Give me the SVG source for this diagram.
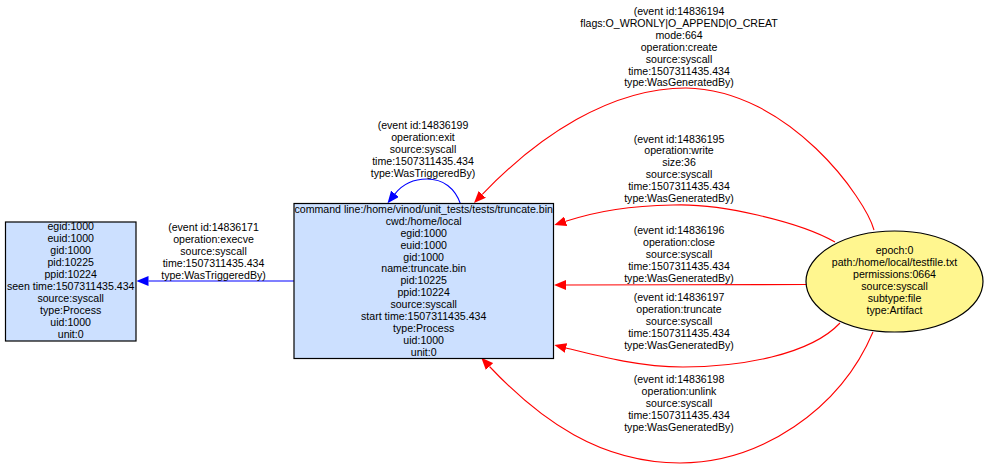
<svg xmlns="http://www.w3.org/2000/svg" width="989" height="469" viewBox="0 0 989 469">
<style>
text { font-family: "Liberation Sans", Arial, sans-serif; font-size: 10.6px; fill: #000; text-anchor: middle; }
.proc { fill: #cce0ff; stroke: #000; stroke-width: 1.2; }
.art { fill: #fff68f; stroke: #000; stroke-width: 1.2; }
.red { fill: none; stroke: #ff0000; stroke-width: 1.1; }
.blue { fill: none; stroke: #0000ff; stroke-width: 1.1; }
.red-m { marker-end: url(#ah-red); }
.blue-m { marker-end: url(#ah-blue); }
</style>
<defs>
<marker id="ah-red" viewBox="0 0 12 10" refX="0" refY="5" markerWidth="12" markerHeight="10" markerUnits="userSpaceOnUse" orient="auto">
<path d="M0,0 L12,5 L0,10 Z" fill="#ff0000"/>
</marker>
<marker id="ah-blue" viewBox="0 0 12 10" refX="0" refY="5" markerWidth="12" markerHeight="10" markerUnits="userSpaceOnUse" orient="auto">
<path d="M0,0 L12,5 L0,10 Z" fill="#0000ff"/>
</marker>
</defs>
<rect width="989" height="469" fill="#ffffff"/>

<g id="connectors">
<g id="e-execve">
<path class="blue blue-m" d="M294,281 L148.5,281"/>
<text x="213.5" y="230.7">(event id:14836171</text>
<text x="213.5" y="242.7">operation:execve</text>
<text x="213.5" y="254.7">source:syscall</text>
<text x="213.5" y="266.7">time:1507311435.434</text>
<text x="213.5" y="278.7">type:WasTriggeredBy)</text>
</g>
<g id="e-exit">
<path class="blue blue-m" d="M460.5,204 C455,188 443,179 427,179 C413,179 402,185 395,193.8"/>
<text x="423" y="129.3">(event id:14836199</text>
<text x="423" y="141.3">operation:exit</text>
<text x="423" y="153.2">source:syscall</text>
<text x="423" y="165.2">time:1507311435.434</text>
<text x="423" y="177.1">type:WasTriggeredBy)</text>
</g>
<g id="e-create">
<path class="red red-m" d="M874,230 C866,200 790,90 686,88 C610,88 537.5,136.8 482.3,194.4"/>
<text x="679" y="15">(event id:14836194</text>
<text x="679" y="26.9">flags:O_WRONLY|O_APPEND|O_CREAT</text>
<text x="679" y="38.8">mode:664</text>
<text x="679" y="50.7">operation:create</text>
<text x="679" y="62.6">source:syscall</text>
<text x="679" y="74.5">time:1507311435.434</text>
<text x="679" y="86.4">type:WasGeneratedBy)</text>
</g>
<g id="e-write">
<path class="red red-m" d="M835,242 C800,222 720,203 673,205 C630,206 599,210.5 565.7,221.3"/>
<text x="679" y="142.5">(event id:14836195</text>
<text x="679" y="154.4">operation:write</text>
<text x="679" y="166.2">size:36</text>
<text x="679" y="178.1">source:syscall</text>
<text x="679" y="189.9">time:1507311435.434</text>
<text x="679" y="201.8">type:WasGeneratedBy)</text>
</g>
<g id="e-close">
<path class="red red-m" d="M807,284.5 C740,284.5 640,285 566,285"/>
<text x="679" y="234.4">(event id:14836196</text>
<text x="679" y="246.3">operation:close</text>
<text x="679" y="258.2">source:syscall</text>
<text x="679" y="270.1">time:1507311435.434</text>
<text x="679" y="282">type:WasGeneratedBy)</text>
</g>
<g id="e-truncate">
<path class="red red-m" d="M840,323 C810,355 740,367 683,367 C640,367 600,356.5 566,348"/>
<text x="679" y="301">(event id:14836197</text>
<text x="679" y="312.9">operation:truncate</text>
<text x="679" y="324.8">source:syscall</text>
<text x="679" y="336.7">time:1507311435.434</text>
<text x="679" y="348.6">type:WasGeneratedBy)</text>
</g>
<g id="e-unlink">
<path class="red red-m" d="M873,332 C840,410 760,463 680,463 C600,463 540,420 489.5,366.5"/>
<text x="679" y="383">(event id:14836198</text>
<text x="679" y="395">operation:unlink</text>
<text x="679" y="407">source:syscall</text>
<text x="679" y="419">time:1507311435.434</text>
<text x="679" y="431">type:WasGeneratedBy)</text>
</g>
</g>

<g id="node-parent">
<rect class="proc" x="5.5" y="222" width="130.5" height="119"/>
<text x="70.7" y="230">egid:1000</text>
<text x="70.7" y="242">euid:1000</text>
<text x="70.7" y="254">gid:1000</text>
<text x="70.7" y="266">pid:10225</text>
<text x="70.7" y="278">ppid:10224</text>
<text x="70.7" y="290">seen time:1507311435.434</text>
<text x="70.7" y="302">source:syscall</text>
<text x="70.7" y="314">type:Process</text>
<text x="70.7" y="326">uid:1000</text>
<text x="70.7" y="338">unit:0</text>
</g>

<g id="node-truncate">
<rect class="proc" x="294" y="203.5" width="259.5" height="155"/>
<text x="423.7" y="212.7">command line:/home/vinod/unit_tests/tests/truncate.bin</text>
<text x="423.7" y="224.6">cwd:/home/local</text>
<text x="423.7" y="236.6">egid:1000</text>
<text x="423.7" y="248.5">euid:1000</text>
<text x="423.7" y="260.5">gid:1000</text>
<text x="423.7" y="272.4">name:truncate.bin</text>
<text x="423.7" y="284.4">pid:10225</text>
<text x="423.7" y="296.3">ppid:10224</text>
<text x="423.7" y="308.3">source:syscall</text>
<text x="423.7" y="320.2">start time:1507311435.434</text>
<text x="423.7" y="332.2">type:Process</text>
<text x="423.7" y="344.1">uid:1000</text>
<text x="423.7" y="356.1">unit:0</text>
</g>

<g id="node-file">
<ellipse class="art" cx="894.5" cy="281.5" rx="88.5" ry="50.5"/>
<text x="894.5" y="254.4">epoch:0</text>
<text x="894.5" y="266.3">path:/home/local/testfile.txt</text>
<text x="894.5" y="278.2">permissions:0664</text>
<text x="894.5" y="290.1">source:syscall</text>
<text x="894.5" y="302">subtype:file</text>
<text x="894.5" y="313.9">type:Artifact</text>
</g>
</svg>
